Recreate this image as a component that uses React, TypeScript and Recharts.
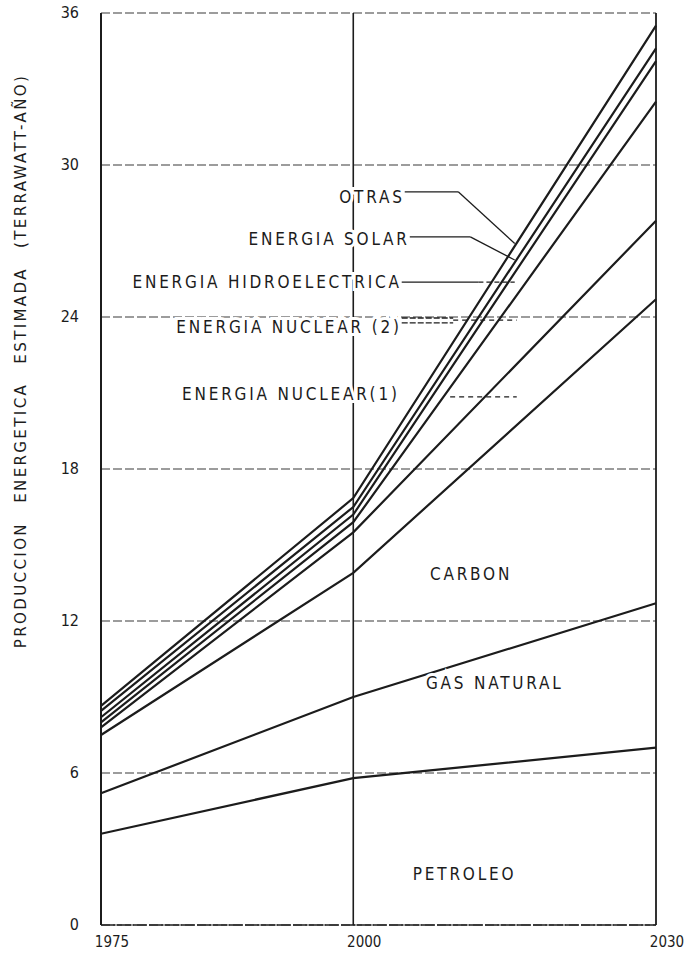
import React from 'react';
import { LineChart, Line, XAxis, YAxis, CartesianGrid, ReferenceLine, ReferenceDot, Label } from 'recharts';

// ---- data (cumulative production, terawatt-año) ----
const years = [1975, 2000, 2030];
const petroleo = [3.6, 5.8, 7.0];
const gasNatural = [5.2, 9.0, 12.7];
const carbon = [7.5, 13.9, 24.7];
const nuclear1 = [7.8, 15.5, 27.8];
const nuclear2 = [8.0, 15.9, 32.5];
const hidro = [8.2, 16.2, 34.1];
const solar = [8.45, 16.5, 34.6];
const otras = [8.65, 16.85, 35.5];

const yTicks = [0, 6, 12, 18, 24, 30, 36];
const xTicks = [1975, 2000, 2030];

const seriesKeys = ['petroleo', 'gasNatural', 'carbon', 'nuclear1', 'nuclear2', 'hidro', 'solar', 'otras'];
const seriesValues = [petroleo, gasNatural, carbon, nuclear1, nuclear2, hidro, solar, otras];

const data = years.map((year, i) => {
  const row: Record<string, number> = { year };
  seriesKeys.forEach((k, j) => { row[k] = seriesValues[j][i]; });
  return row;
});

// ---- annotations (data coordinates) ----
const labelTexts = ['OTRAS', 'ENERGIA SOLAR', 'ENERGIA HIDROELECTRICA', 'ENERGIA NUCLEAR (2)', 'ENERGIA NUCLEAR(1)', 'CARBON', 'GAS NATURAL', 'PETROLEO'];
const labelX = [2005.1, 2005.6, 2004.8, 2004.8, 2004.6, 2007.6, 2007.2, 2005.9];
const labelY = [28.5, 26.85, 25.15, 23.37, 20.73, 13.62, 9.3, 1.78];
const labelAnchor = ['end', 'end', 'end', 'end', 'end', 'start', 'start', 'start'];

const leaders = [
  { pts: [[2005.1, 28.94], [2010.4, 28.94], [2016.0, 26.9]], dash: undefined },
  { pts: [[2005.6, 27.16], [2011.6, 27.16], [2016.0, 26.25]], dash: undefined },
  { pts: [[2004.8, 25.38], [2012.4, 25.38]], dash: undefined },
  { pts: [[2012.4, 25.38], [2016.0, 25.38]], dash: '5 3' },
  { pts: [[2004.8, 23.96], [2009.9, 23.96]], dash: '6 2' },
  { pts: [[2004.8, 23.77], [2009.9, 23.77]], dash: '6 2' },
  { pts: [[2009.9, 23.88], [2016.2, 23.88]], dash: '5 4' },
  { pts: [[2009.6, 20.85], [2016.2, 20.85]], dash: '5 4' },
];

const FONT = "'DejaVu Sans Condensed', 'Liberation Sans Narrow', 'DejaVu Sans', sans-serif";
const FONT_WIDE = "'DejaVu Sans', sans-serif";
const INK = '#1c1c1c';

const XTick = (props: any) => (
  <text x={props.x + 11} y={props.y + 14} textAnchor="middle" fontFamily={FONT} fontSize={15} fill={INK}>
    {props.payload.value}
  </text>
);

const YTick = (props: any) => (
  <text x={props.x} y={props.y + 5} textAnchor="end" fontFamily={FONT} fontSize={16} fill={INK}>
    {props.payload.value}
  </text>
);

const AxisTitle = (props: any) => {
  const vb = props.viewBox || { x: 0, y: 0, width: 0, height: 0 };
  const cx = vb.x + 21;
  const cy = vb.y + vb.height / 2 - 108;
  return (
    <text
      x={cx}
      y={cy}
      transform={`rotate(-90 ${cx} ${cy})`}
      textAnchor="middle"
      dominantBaseline="central"
      fontFamily={FONT_WIDE}
      fontSize={15}
      letterSpacing={2.4}
      wordSpacing={12}
      fill={INK}
    >
      PRODUCCION ENERGETICA ESTIMADA (TERRAWATT-AÑO)
    </text>
  );
};

const makeLabelShape = (text: string, anchor: string) => (p: any) => (
  <text
    x={p.cx}
    y={p.cy}
    textAnchor={anchor}
    fontFamily={FONT}
    fontSize={17}
    letterSpacing={2.8}
    fill={INK}
    stroke="#ffffff"
    strokeWidth={6}
    style={{ paintOrder: 'stroke' }}
  >
    {text}
  </text>
);

export default function App() {
  return (
    <div style={{ position: 'absolute', left: 0, top: 0, width: 694, height: 953, background: '#fff' }}>
      <LineChart width={694} height={953} data={data} margin={{ top: 13, right: 38, bottom: 0, left: 0 }}>
        <CartesianGrid horizontal vertical={false} stroke="#3a3a3a" strokeDasharray="9 3" strokeWidth={1.2} />
        <XAxis
          dataKey="year"
          type="number"
          domain={[1975, 2030]}
          ticks={xTicks}
          height={28}
          tickLine={false}
          axisLine={{ stroke: INK, strokeWidth: 1.6, strokeDasharray: '14 2' }}
          tick={<XTick />}
        />
        <YAxis
          type="number"
          domain={[0, 36]}
          ticks={yTicks}
          width={101}
          tickLine={false}
          tickMargin={16}
          axisLine={{ stroke: INK, strokeWidth: 2 }}
          tick={<YTick />}
        >
          <Label content={<AxisTitle />} />
        </YAxis>
        <ReferenceLine x={2000} stroke={INK} strokeWidth={1.6} />
        <ReferenceLine x={2030} stroke={INK} strokeWidth={1.8} />
        {seriesKeys.map((k) => (
          <Line
            key={k}
            dataKey={k}
            type="linear"
            stroke={INK}
            strokeWidth={2.2}
            dot={false}
            activeDot={false}
            isAnimationActive={false}
          />
        ))}
        {leaders.map((l, i) =>
          l.pts.slice(1).map((pt, j) => (
            <ReferenceLine
              key={`ld-${i}-${j}`}
              segment={[{ x: l.pts[j][0], y: l.pts[j][1] }, { x: pt[0], y: pt[1] }]}
              stroke={INK}
              strokeWidth={1.3}
              strokeDasharray={l.dash}
              ifOverflow="visible"
            />
          ))
        )}
        {labelTexts.map((t, i) => (
          <ReferenceDot
            key={`lb-${i}`}
            x={labelX[i]}
            y={labelY[i]}
            r={1}
            ifOverflow="visible"
            shape={makeLabelShape(t, labelAnchor[i])}
          />
        ))}
      </LineChart>
    </div>
  );
}
